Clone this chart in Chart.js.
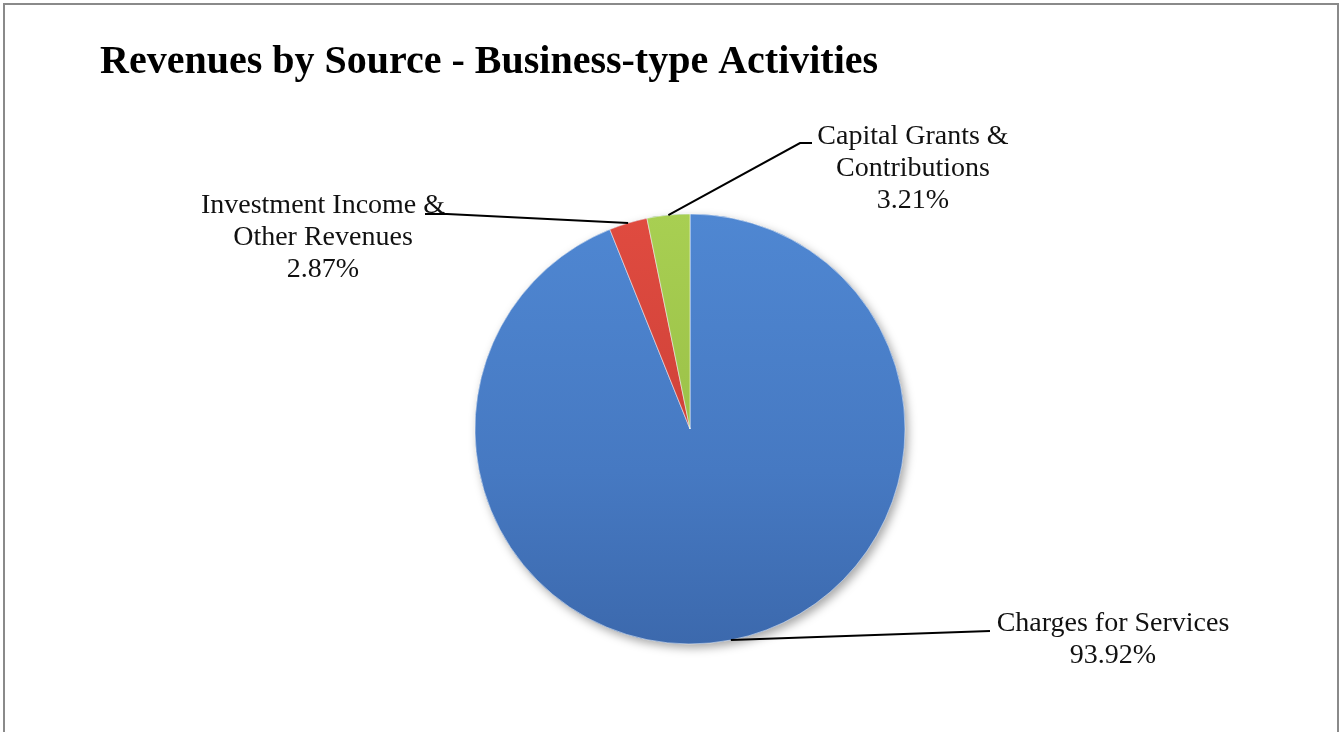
<!DOCTYPE html>
<html>
<head>
<meta charset="utf-8">
<script src="https://cdn.jsdelivr.net/npm/chart.js@4"></script>
<style>
  html, body { margin: 0; padding: 0; background: #fff; overflow: hidden; }
  #frame { position: absolute; left: 3px; top: 3px; width: 1336px; height: 800px;
           border: 2px solid #8a8a8a; border-bottom: none; box-sizing: border-box; }
  #wrap { position: absolute; left: 0; top: 0; width: 1344px; height: 732px; }
</style>
</head>
<body>
<div id="frame"></div>
<div id="wrap"><canvas id="c" width="1344" height="732"></canvas></div>
<script>
// ---- data ----
const categories = ['Charges for Services', 'Investment Income & Other Revenues', 'Capital Grants & Contributions'];
const values = [93.92, 2.87, 3.21];
const titleText = 'Revenues by Source - Business-type Activities';

// label text lines (split for display) per category
const labelLines = [
  ['Charges for Services'],
  ['Investment Income &', 'Other Revenues'],
  ['Capital Grants &', 'Contributions']
];
// label layout: text center x, first baseline y, leader bend points
const labelLayout = [
  { x: 1113, y: 631, bends: [[990, 631]] },
  { x: 323,  y: 213, bends: [[447, 214], [425, 214]] },
  { x: 913,  y: 144, bends: [[800, 143], [812, 143]] }
];
const colors = ['#4a7fc8', '#d4433a', '#9fc64a'];

const labelPlugin = {
  id: 'labels',
  beforeDatasetsDraw(chart) {
    const meta = chart.getDatasetMeta(0);
    const a = meta.data[0];
    if (!a) return;
    const ctx = chart.ctx;
    ctx.save();
    ctx.shadowColor = 'rgba(0,0,0,0.35)';
    ctx.shadowBlur = 10;
    ctx.shadowOffsetX = 3;
    ctx.shadowOffsetY = 4;
    ctx.fillStyle = '#4a7fc8';
    ctx.beginPath();
    ctx.arc(a.x, a.y, a.outerRadius, 0, Math.PI * 2);
    ctx.fill();
    ctx.restore();
  },
  afterDraw(chart) {
    const ctx = chart.ctx;
    const meta = chart.getDatasetMeta(0);
    ctx.save();
    // title
    ctx.fillStyle = '#000';
    ctx.font = 'bold 40px "Liberation Serif", "Times New Roman", serif';
    ctx.textAlign = 'left';
    ctx.textBaseline = 'alphabetic';
    ctx.fillText(titleText, 100, 73);

    ctx.font = '28px "Liberation Serif", "Times New Roman", serif';
    ctx.textAlign = 'center';
    meta.data.forEach((arc, i) => {
      const mid = (arc.startAngle + arc.endAngle) / 2;
      const sx = arc.x + Math.cos(mid) * arc.outerRadius;
      const sy = arc.y + Math.sin(mid) * arc.outerRadius;
      const L = labelLayout[i];
      ctx.strokeStyle = '#000';
      ctx.lineWidth = 2;
      ctx.beginPath();
      ctx.moveTo(sx, sy);
      L.bends.forEach(p => ctx.lineTo(p[0], p[1]));
      ctx.stroke();
      const lines = labelLines[i].concat([values[i].toFixed(2) + '%']);
      ctx.fillStyle = '#111';
      lines.forEach((t, k) => ctx.fillText(t, L.x, L.y + k * 32));
    });
    ctx.restore();
  }
};

new Chart(document.getElementById('c'), {
  type: 'pie',
  data: {
    labels: categories,
    datasets: [{
      data: values,
      backgroundColor: (c) => {
        const chart = c.chart;
        const area = chart.chartArea;
        if (!area) return colors[c.dataIndex];
        const g = chart.ctx.createLinearGradient(0, 214, 0, 644);
        if (c.dataIndex === 0) {
          g.addColorStop(0, '#4f87d2');
          g.addColorStop(0.6, '#4679c2');
          g.addColorStop(1, '#3c69ad');
        } else if (c.dataIndex === 1) {
          g.addColorStop(0, '#e04b40');
          g.addColorStop(1, '#c03a32');
        } else {
          g.addColorStop(0, '#a8cf52');
          g.addColorStop(1, '#8fb43f');
        }
        return g;
      },
      borderColor: 'rgba(255,255,255,0.5)',
      borderWidth: 1,
      radius: 215
    }]
  },
  options: {
    responsive: false,
    animation: false,
    layout: { padding: { left: 400, right: 364, top: 176, bottom: 50 } },
    plugins: {
      legend: { display: false },
      tooltip: { enabled: false },
      title: { display: false }
    }
  },
  plugins: [labelPlugin]
});
</script>
</body>
</html>
